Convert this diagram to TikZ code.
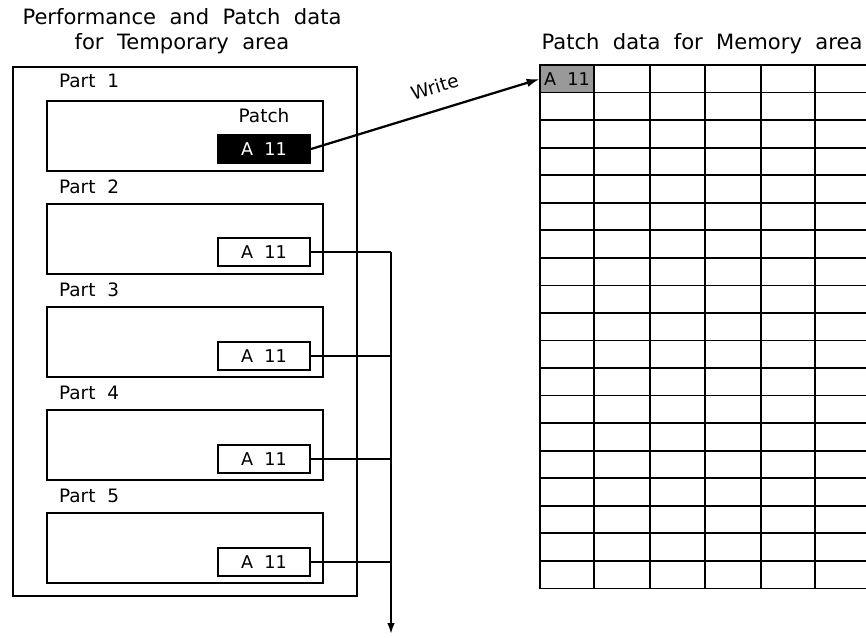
\documentclass[tikz,border=0pt]{standalone}
\usepackage{fontspec}
\setmainfont{DejaVu Sans}[WordSpace=2]
\usetikzlibrary{positioning, arrows.meta, calc}

\begin{document}
\begin{tikzpicture}[
    x=0.2mm, y=-0.2mm,
    txt/.style={font=\fontsize{10.5}{12.5}\selectfont, inner sep=1pt},
    ttl/.style={font=\fontsize{12}{14.5}\selectfont, inner sep=1pt, align=center},
    areabox/.style={draw, line width=0.4mm, minimum width=68.8mm, minimum height=105.8mm, inner sep=0pt},
    partbox/.style={draw, line width=0.4mm, minimum width=55.2mm, minimum height=14mm, inner sep=0pt},
    patchbox/.style={draw, line width=0.4mm, minimum width=18.4mm, minimum height=5.6mm, inner sep=0pt, font=\fontsize{10}{12}\selectfont},
    selbox/.style={patchbox, fill=black, text=white},
    memcell/.style={minimum width=10.8mm, minimum height=5.5mm, inner sep=0pt, fill=black!40, font=\fontsize{10}{12}\selectfont},
    gridline/.style={line width=0.35mm},
    arrow/.style={-{Latex[length=2.6mm, width=1.7mm]}, line width=0.45mm},
    bus/.style={line width=0.35mm}
]
    \useasboundingbox (0,0) rectangle (866,637);

    % ================= LEFT SIDE: TEMPORARY AREA =================
    \node[ttl] (TempTitle) at (182,31) {Performance and Patch data\\for Temporary area};
    \node[areabox] (TempArea) at (185,331.5) {};

    % Part boxes
    \node[partbox] (Part1) at (185,136) {};
    \node[partbox] (Part2) at (185,238.5) {};
    \node[partbox] (Part3) at (185,342) {};
    \node[partbox] (Part4) at (185,445) {};
    \node[partbox] (Part5) at (185,548) {};

    % Part labels
    \node[txt, anchor=west] (Label1) at (57,81) {Part 1};
    \node[txt, anchor=west] (Label2) at (57,187) {Part 2};
    \node[txt, anchor=west] (Label3) at (57,290) {Part 3};
    \node[txt, anchor=west] (Label4) at (57,393) {Part 4};
    \node[txt, anchor=west] (Label5) at (57,496) {Part 5};

    % Patch entries
    \node[txt] (PatchLbl) at (264,116) {Patch};
    \node[selbox] (Patch1) at (264,149) {A 11};
    \node[patchbox] (Patch2) at (264,252) {A 11};
    \node[patchbox] (Patch3) at (264,356) {A 11};
    \node[patchbox] (Patch4) at (264,459) {A 11};
    \node[patchbox] (Patch5) at (264,562) {A 11};

    % ================= RIGHT SIDE: MEMORY AREA =================
    \node[ttl] (MemTitle) at (702,44) {Patch data for Memory area};
    \node[memcell] (MemCell) at (567,79) {A 11};

    % Grid of patch slots (open to the right)
    \foreach \gy in {0,...,19}
        \draw[gridline] (539,{65+27.55*\gy}) -- (866,{65+27.55*\gy});
    \foreach \gx in {540,594,650,705,761,815}
        \draw[gridline] (\gx,65) -- (\gx,589);

    % ================= DRAW CONNECTIONS =================

    % Write to memory
    \draw[arrow] (Patch1.east) -- (MemCell.west)
        node[pos=0.57, above=2.6mm, sloped, txt] {Write};

    % Output bus
    \coordinate (BusTop) at (391,252);
    \coordinate (BusEnd) at (391,634);
    \draw[bus] (Patch2.east) -- (BusTop);
    \draw[bus] (Patch3.east) -- (Patch3.east -| BusTop);
    \draw[bus] (Patch4.east) -- (Patch4.east -| BusTop);
    \draw[bus] (Patch5.east) -- (Patch5.east -| BusTop);
    \draw[bus, -{Latex[length=2.2mm, width=1.5mm]}] (BusTop) -- (BusEnd);

\end{tikzpicture}
\end{document}
